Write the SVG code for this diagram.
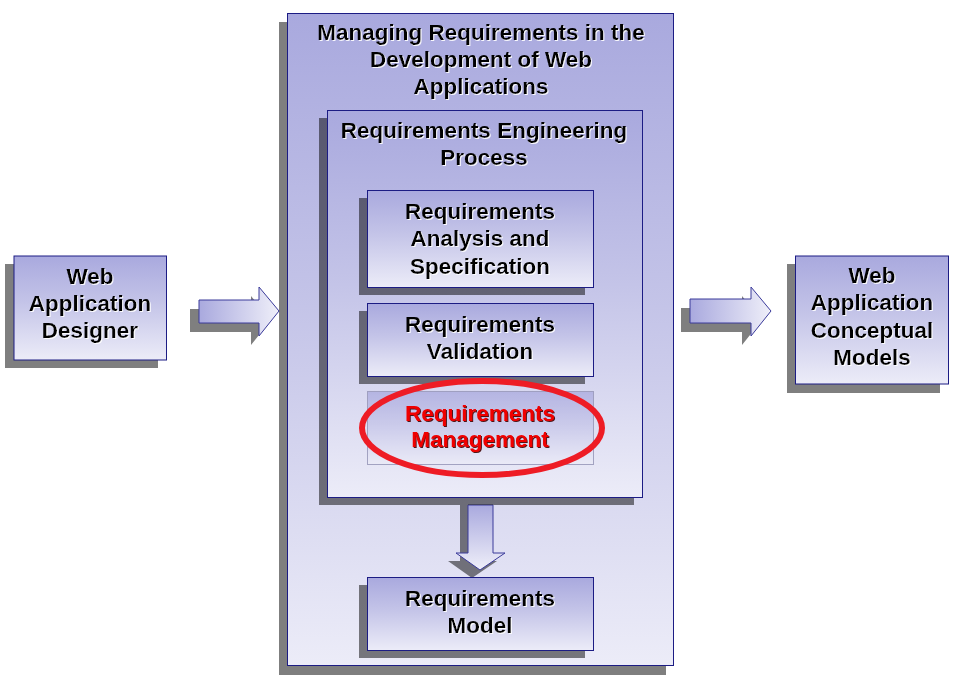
<svg xmlns="http://www.w3.org/2000/svg" width="958" height="685" viewBox="0 0 958 685">
<defs>
<linearGradient id="gv" x1="0" y1="0" x2="0" y2="1"><stop offset="0" stop-color="#a9a9de"/><stop offset="0.45" stop-color="#c4c4e8"/><stop offset="1" stop-color="#ececf8"/></linearGradient>
<linearGradient id="gh" x1="0" y1="0" x2="1" y2="0"><stop offset="0" stop-color="#a9a9de"/><stop offset="1" stop-color="#efeff9"/></linearGradient>
<linearGradient id="gd" x1="0" y1="0" x2="0" y2="1"><stop offset="0" stop-color="#a9a9de"/><stop offset="1" stop-color="#efeff9"/></linearGradient>
<filter id="ws" x="-5%" y="-20%" width="110%" height="140%"><feDropShadow dx="1" dy="1" stdDeviation="0" flood-color="#ffffff" flood-opacity="0.9"/></filter>
<filter id="ds" x="-5%" y="-20%" width="110%" height="140%"><feDropShadow dx="1" dy="1" stdDeviation="0" flood-color="#400000" flood-opacity="0.9"/></filter>
</defs>
<style>
.sh{fill:#000;fill-opacity:0.5}
.bx{fill:url(#gv);stroke:#1c1c84;stroke-width:1}
.ar{stroke:#3a3a9a;stroke-width:1}
.t{font-family:"Liberation Sans",Arial,sans-serif;font-weight:bold;font-size:22.5px;text-anchor:middle;fill:#000;filter:url(#ws)}
.r{fill:#f00000;filter:url(#ds)}
</style>
<rect width="958" height="685" fill="#fff"/>
<g id="connectors">
<path class="sh" d="M190,309 H251 V296 L271,320 L251,345 V332 H190 Z"/>
<path class="ar" fill="url(#gh)" d="M199,300 H259 V287 L279,311 L259,336 V323 H199 Z"/>
<path class="sh" d="M681,308 H742 V296 L762,320 L742,345 V332 H681 Z"/>
<path class="ar" fill="url(#gh)" d="M690,299 H751 V287 L771,311 L751,336 V323 H690 Z"/>
</g>
<g id="outer">
<rect class="sh" x="279" y="22" width="387" height="653"/>
<rect class="bx" x="287.5" y="13.5" width="386" height="652"/>
<text class="t"><tspan x="481" y="40">Managing Requirements in the</tspan><tspan x="481" y="67">Development of Web</tspan><tspan x="481" y="94">Applications</tspan></text>
</g>
<g id="down-arrow">
<path class="sh" d="M460,505 H485 V561 H497 L472,578 L448,561 H460 Z"/>
<path class="ar" fill="url(#gd)" d="M468,505 H493 V553 H505 L480,570 L456,553 H468 Z"/>
</g>
<g id="rep">
<rect class="sh" x="319" y="118" width="315" height="387"/>
<rect class="bx" x="327.5" y="110.5" width="315" height="387"/>
<text class="t"><tspan x="484" y="138">Requirements Engineering</tspan><tspan x="484" y="165">Process</tspan></text>
</g>
<g id="analysis">
<rect class="sh" x="359" y="198" width="226" height="97"/>
<rect class="bx" x="367.5" y="190.5" width="226" height="97"/>
<text class="t"><tspan x="480" y="219">Requirements</tspan><tspan x="480" y="246">Analysis and</tspan><tspan x="480" y="274">Specification</tspan></text>
</g>
<g id="validation">
<rect class="sh" x="359" y="311" width="226" height="73"/>
<rect class="bx" x="367.5" y="303.5" width="226" height="73"/>
<text class="t"><tspan x="480" y="332">Requirements</tspan><tspan x="480" y="359">Validation</tspan></text>
</g>
<g id="management">
<rect x="367.5" y="391.5" width="226" height="73" fill="url(#gv)" stroke="#8c8cb0" stroke-width="1" opacity="0.75"/>
<ellipse cx="482" cy="428" rx="120" ry="47" fill="none" stroke="#ee1c25" stroke-width="6"/>
<text class="t r"><tspan x="480" y="421">Requirements</tspan><tspan x="480" y="447">Management</tspan></text>
</g>
<g id="model">
<rect class="sh" x="359" y="585" width="226" height="73"/>
<rect class="bx" x="367.5" y="577.5" width="226" height="73"/>
<text class="t"><tspan x="480" y="606">Requirements</tspan><tspan x="480" y="633">Model</tspan></text>
</g>
<g id="designer">
<rect class="sh" x="5" y="264" width="153" height="104"/>
<rect class="bx" x="14" y="256" width="152.5" height="104"/>
<text class="t"><tspan x="90" y="284">Web</tspan><tspan x="90" y="311">Application</tspan><tspan x="90" y="338">Designer</tspan></text>
</g>
<g id="conceptual">
<rect class="sh" x="787" y="264" width="153" height="129"/>
<rect class="bx" x="795.5" y="256" width="153" height="128"/>
<text class="t"><tspan x="872" y="283">Web</tspan><tspan x="872" y="310">Application</tspan><tspan x="872" y="338">Conceptual</tspan><tspan x="872" y="365">Models</tspan></text>
</g>
</svg>
